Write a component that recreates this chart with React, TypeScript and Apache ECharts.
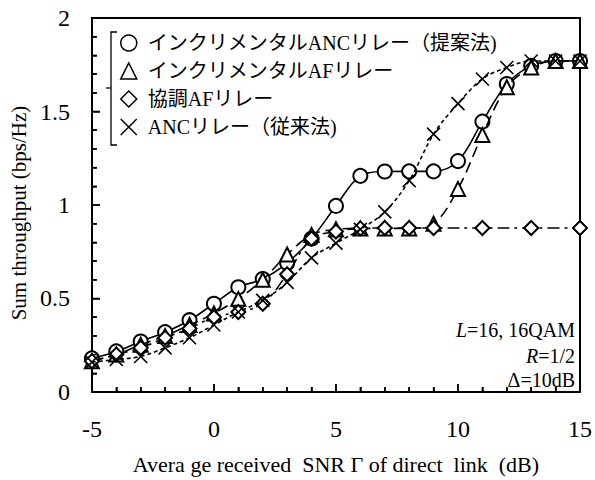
import React, { useEffect, useRef } from "react";
import * as echarts from "echarts";

const FONT = '"Liberation Serif", "Noto Sans CJK JP", serif';

const xTicks = [-5, 0, 5, 10, 15];
const xTickVals = [-5, -4, -3, -2, -1, 0, 1, 2, 3, 4, 5, 6, 7, 8, 9, 10, 11, 12, 13, 14, 15];
const yTickVals = [0, 0.1, 0.2, 0.3, 0.4, 0.5, 0.6, 0.7, 0.8, 0.9, 1, 1.1, 1.2, 1.3, 1.4, 1.5, 1.6, 1.7, 1.8, 1.9, 2];
const seriesNames = [
  "インクリメンタルANCリレー（提案法)",
  "インクリメンタルAFリレー",
  "協調AFリレー",
  "ANCリレー（従来法)",
];

const xFull = [-5, -4, -3, -2, -1, 0, 1, 2, 3, 4, 5, 6, 7, 8, 9, 10, 11, 12, 13, 14, 15];
const incAnc = [0.18, 0.217, 0.27, 0.32, 0.384, 0.472, 0.56, 0.604, 0.69, 0.82, 0.995, 1.156, 1.179, 1.18, 1.18, 1.235, 1.446, 1.647, 1.744, 1.77, 1.77];
const incAf = [0.165, 0.2, 0.253, 0.3, 0.358, 0.42, 0.498, 0.6, 0.735, 0.84, 0.87, 0.875, 0.875, 0.875, 0.9, 1.086, 1.375, 1.63, 1.735, 1.77, 1.77];
const xCoop = [-5, -4, -3, -2, -1, 0, 1, 2, 3, 4, 5, 6, 7, 8, 9, 11, 13, 15];
const coopAf = [0.165, 0.2, 0.236, 0.29, 0.34, 0.4, 0.428, 0.472, 0.63, 0.82, 0.858, 0.875, 0.877, 0.877, 0.877, 0.877, 0.877, 0.877];
const anc = [0.16, 0.174, 0.19, 0.236, 0.29, 0.358, 0.428, 0.49, 0.586, 0.717, 0.796, 0.87, 0.963, 1.13, 1.379, 1.542, 1.674, 1.735, 1.77, 1.77, 1.77];

const CROSS = "path://M0,0L10,10M10,0L0,10";
const symbols = ["emptyCircle", "emptyTriangle", "emptyDiamond", CROSS];
const legendIcons = ["circle", "triangle", "diamond", CROSS];
const dashes: any[] = ["solid", [11, 6], [12, 5, 3, 5], [4, 3]];

export default function App() {
  const ref = useRef<HTMLDivElement>(null);
  useEffect(() => {
    document.body.style.margin = "0";
    const chart = echarts.init(ref.current!, undefined, { renderer: "svg" });
    const xs = [xFull, xFull, xCoop, xFull];
    const ys = [incAnc, incAf, coopAf, anc];
    const xMin = xTicks[0];
    const xMax = xTicks[xTicks.length - 1];
    const series: any[] = seriesNames.map((name, i) => ({
      name,
      type: "line",
      smooth: 0.35,
      data: xs[i].map((x, j) => [x, ys[i][j]]),
      symbol: symbols[i],
      symbolSize: i === 3 ? 13 : 14,
      itemStyle: i === 3
        ? { color: "#fff", borderColor: "#000", borderWidth: 1.6 }
        : { color: "#000", borderWidth: 1.6 },
      lineStyle: { color: "#000", width: 1.6, type: dashes[i] },
      z: 2 + i,
    }));
    const frameAxis = (pos: string, min: number, max: number) => ({
      type: "value",
      position: pos,
      min,
      max,
      axisLine: { show: true, onZero: false, lineStyle: { color: "#000", width: 2 } },
      axisTick: { show: false },
      minorTick: { show: false },
      axisLabel: { show: false },
      splitLine: { show: false },
    });
    const mkTick = () => ({ show: true, inside: true, length: 8, lineStyle: { color: "#000", width: 1.5 } });
    const mkMinor = () => ({ show: true, splitNumber: 5, length: 5, lineStyle: { color: "#000", width: 1.5 } });
    const baseGraphic: any[] = [
      {
        id: "br1",
        type: "polyline",
        shape: { points: [[117, 32], [111, 32], [111, 145], [117, 145]] },
        style: { stroke: "#000", lineWidth: 1.3, fill: "none" },
      },
      {
        id: "br2",
        type: "line",
        shape: { x1: 106, y1: 88, x2: 111, y2: 88 },
        style: { stroke: "#000", lineWidth: 1.3 },
      },
      {
        id: "t1",
        type: "text",
        x: 575,
        y: 330,
        style: {
          text: "{i|L}=16, 16QAM",
          align: "right",
          verticalAlign: "middle",
          font: `20px ${FONT}`,
          fill: "#000",
          rich: { i: { fontStyle: "italic", fontSize: 20, fontFamily: FONT } },
        },
      },
      {
        id: "t2",
        type: "text",
        x: 575,
        y: 356,
        style: {
          text: "{i|R}=1/2",
          align: "right",
          verticalAlign: "middle",
          font: `20px ${FONT}`,
          fill: "#000",
          rich: { i: { fontStyle: "italic", fontSize: 20, fontFamily: FONT } },
        },
      },
      {
        id: "t3",
        type: "text",
        x: 575,
        y: 380,
        style: {
          text: "Δ=10dB",
          align: "right",
          verticalAlign: "middle",
          font: `20px ${FONT}`,
          fill: "#000",
        },
      },
    ];
    chart.setOption({
      animation: false,
      textStyle: { fontFamily: FONT },
      grid: { left: 90, right: 10, top: 18, bottom: 82 },
      legend: {
        orient: "vertical",
        left: 120,
        top: 33,
        padding: 0,
        itemGap: 8,
        itemWidth: 16,
        itemHeight: 16,
        textStyle: { fontFamily: FONT, fontSize: 20, lineHeight: 20, color: "#000", padding: [0, 0, 0, 6] },
        data: seriesNames.map((name, i) => ({
          name,
          icon: legendIcons[i],
          itemStyle: { color: "#fff", borderColor: "#000", borderWidth: 1.5 },
        })),
      },
      xAxis: [
        {
          type: "value",
          min: xMin,
          max: xMax,
          interval: 5,
          axisLine: { show: true, onZero: false, lineStyle: { color: "#000", width: 2 } },
          axisTick: mkTick(),
          minorTick: mkMinor(),
          splitLine: { show: false },
          axisLabel: { fontSize: 24, color: "#000", margin: 25, fontFamily: FONT },
          name: "Avera ge received  SNR Γ of direct  link  (dB)",
          nameLocation: "middle",
          nameGap: 61,
          nameTextStyle: { fontSize: 22, color: "#000", fontFamily: FONT },
        },
        frameAxis("top", xMin, xMax),
      ],
      yAxis: [
        {
          type: "value",
          min: 0,
          max: 2,
          interval: 0.5,
          axisLine: { show: true, onZero: false, lineStyle: { color: "#000", width: 2 } },
          axisTick: mkTick(),
          minorTick: mkMinor(),
          splitLine: { show: false },
          axisLabel: { fontSize: 24, color: "#000", margin: 22, fontFamily: FONT },
          name: "Sum throughput (bps/Hz)",
          nameLocation: "middle",
          nameGap: 62,
          nameTextStyle: { fontSize: 21, color: "#000", fontFamily: FONT, padding: [0, 16, 0, 0] },
        },
        frameAxis("right", 0, 2),
      ],
      graphic: baseGraphic,
      series,
    });
    // axis ticks placed through the chart's own axis scales
    const tickEls: any[] = [];
    let y0 = NaN;
    let xLeft = NaN;
    try {
      y0 = chart.convertToPixel({ yAxisIndex: 0 } as any, 0) as any;
      xLeft = chart.convertToPixel({ xAxisIndex: 0 } as any, xMin) as any;
    } catch (e) {}
    xTickVals.forEach((v, k) => {
      let px: any = NaN;
      try {
        px = chart.convertToPixel({ xAxisIndex: 0 } as any, v);
      } catch (e) {}
      if (typeof px !== "number" || isNaN(px) || isNaN(y0)) return;
      const len = Math.abs(v % 5) < 1e-6 ? 8 : 5;
      tickEls.push({
        id: "xt" + k,
        type: "line",
        z: 50,
        shape: { x1: px, y1: y0, x2: px, y2: y0 - len },
        style: { stroke: "#000", lineWidth: 1.5 },
      });
    });
    yTickVals.forEach((v, k) => {
      let py: any = NaN;
      try {
        py = chart.convertToPixel({ yAxisIndex: 0 } as any, v);
      } catch (e) {}
      if (typeof py !== "number" || isNaN(py) || isNaN(xLeft)) return;
      const len = Math.abs(v * 2 - Math.round(v * 2)) < 1e-6 ? 8 : 5;
      tickEls.push({
        id: "yt" + k,
        type: "line",
        z: 50,
        shape: { x1: xLeft, y1: py, x2: xLeft + len, y2: py },
        style: { stroke: "#000", lineWidth: 1.5 },
      });
    });
    if (tickEls.length) {
      try {
        chart.setOption({ graphic: [...baseGraphic, ...tickEls] });
      } catch (e) {}
    }
    return () => chart.dispose();
  }, []);
  return <div ref={ref} style={{ width: 595, height: 480 }} />;
}
